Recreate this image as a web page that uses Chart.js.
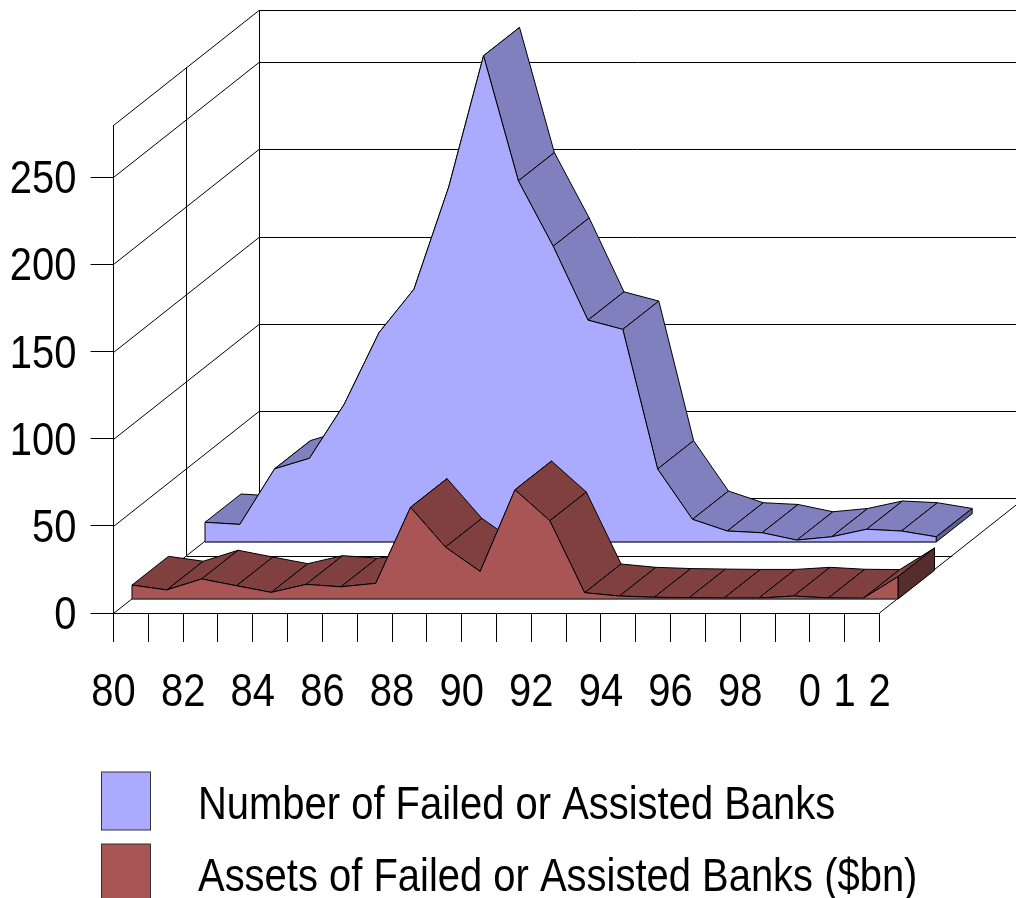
<!DOCTYPE html>
<html>
<head>
<meta charset="utf-8">
<title>Failed or Assisted Banks</title>
<script src="https://cdn.jsdelivr.net/npm/chart.js@4"></script>
<style>
  html, body { margin: 0; padding: 0; background: #fff; overflow: hidden; }
  #chartBox { width: 1016px; height: 898px; }
</style>
</head>
<body>
<div id="chartBox"><canvas id="banksChart" width="1016" height="898"></canvas></div>
<script>
const categories = ['80','81','82','83','84','85','86','87','88','89','90','91','92','93','94','95','96','97','98','99','0','1','2'];
const tickLabels = ['80','','82','','84','','86','','88','','90','','92','','94','','96','','98','','0','1','2'];
const yTicks = [0, 50, 100, 150, 200, 250];
const failedBanks = [11.3, 10.1, 42, 48, 79.1, 120.2, 145, 203.7, 279, 207.2, 169.7, 127.3, 122, 41.9, 13, 6.3, 5.3, 1.1, 3, 7.3, 6.3, 3, null];
const failedAssets = [8, 5.2, 11.5, 7.6, 3.8, 8.4, 7, 9, 52.6, 29.8, 15.8, 62.7, 44.9, 3.6, 1.7, 1, 0.7, 0.5, 0.5, 1.7, 0.6, 0.4, 12.8];

const FONT = '"Liberation Sans", Arial, sans-serif';
const FONT_SIZE = 47;
const TEXT_SQUEEZE = 0.85; // the original type is a narrow Arial

// how far back each ribbon sits, and the wall depth
const WALL_DX = 145.5, WALL_DY = -115;
const depths = [
  { dx: 91.5, dy: -71, bandX: 36, bandY: -28.3, top: '#8080BF', end: '#606090' },
  { dx: 18.5, dy: -14, bandX: 36.5, bandY: -28.7, top: '#804040', end: '#552D2D' }
];

function line(ctx, x1, y1, x2, y2) {
  ctx.beginPath();
  ctx.moveTo(x1, y1);
  ctx.lineTo(x2, y2);
  ctx.stroke();
}

function poly(ctx, pts, fill) {
  ctx.beginPath();
  pts.forEach(function(p, i) {
    if (i === 0) ctx.moveTo(p[0], p[1]);
    else ctx.lineTo(p[0], p[1]);
  });
  ctx.closePath();
  ctx.fillStyle = fill;
  ctx.fill();
  ctx.stroke();
}

// back walls and floor
const wallsPlugin = {
  id: 'walls',
  beforeDatasetsDraw(chart) {
    const ctx = chart.ctx, a = chart.chartArea, y = chart.scales.y;
    ctx.save();
    ctx.strokeStyle = '#000';
    ctx.lineWidth = 1;
    yTicks.concat([y.max]).forEach(function(v) {
      const py = Math.round(y.getPixelForValue(v)) + 0.5;
      const by = py + WALL_DY;
      line(ctx, a.left, py, a.left + WALL_DX, by);
      line(ctx, a.left + WALL_DX, by, 1016, by);
    });
    const floor = y.getPixelForValue(0);
    const backX = Math.round(a.left + WALL_DX) + 0.5;
    line(ctx, backX, y.getPixelForValue(y.max) + WALL_DY, backX, floor + WALL_DY);
    const midX = Math.round(a.left + WALL_DX / 2) + 0.5;
    line(ctx, midX, y.getPixelForValue(y.max) + WALL_DY / 2, midX, floor + WALL_DY / 2);
    const midY = Math.round(floor + WALL_DY / 2) + 0.5;
    line(ctx, midX, midY, a.right + WALL_DX / 2, midY);
    line(ctx, a.right, floor, a.right + WALL_DX, floor + WALL_DY);
    ctx.restore();
  }
};

// the 3d ribbons, built from the points the line controller placed
const ribbonsPlugin = {
  id: 'ribbons',
  afterDatasetsDraw(chart) {
    const ctx = chart.ctx, base = chart.scales.y.getPixelForValue(0);
    ctx.save();
    ctx.lineWidth = 1;
    ctx.lineJoin = 'round';
    chart.data.datasets.forEach(function(ds, n) {
      const d = depths[n];
      const pts = chart.getDatasetMeta(n).data.filter(function(p) { return !p.skip; })
        .map(function(p) { return [p.x + d.dx, p.y + d.dy]; });
      const back = function(p) { return [p[0] + d.bandX, p[1] + d.bandY]; };
      const baseY = base + d.dy;
      const first = pts[0], last = pts[pts.length - 1];
      ctx.strokeStyle = '#000';
      // top strips
      for (let i = 0; i < pts.length - 1; i++) {
        poly(ctx, [pts[i], pts[i + 1], back(pts[i + 1]), back(pts[i])], d.top);
      }
      // right end
      const lastBase = [last[0], baseY];
      poly(ctx, [last, back(last), back(lastBase), lastBase], d.end);
      // front face
      ctx.beginPath();
      ctx.moveTo(first[0], baseY);
      pts.forEach(function(p) { ctx.lineTo(p[0], p[1]); });
      ctx.lineTo(last[0], baseY);
      ctx.closePath();
      ctx.fillStyle = ds.backgroundColor;
      ctx.fill();
      ctx.stroke();
      ctx.strokeStyle = '#555';
      line(ctx, first[0], baseY, last[0], baseY);
    });
    ctx.restore();
  }
};

// legend sits at fixed rows under the axis
const legendPlugin = {
  id: 'sideLegend',
  afterDraw(chart) {
    const ctx = chart.ctx;
    const rows = [{ box: 772, text: 819 }, { box: 844, text: 891 }];
    ctx.save();
    ctx.font = FONT_SIZE + 'px ' + FONT;
    ctx.textBaseline = 'alphabetic';
    chart.data.datasets.forEach(function(ds, n) {
      ctx.fillStyle = ds.backgroundColor;
      ctx.strokeStyle = '#333';
      ctx.fillRect(101.5, rows[n].box, 49, 58);
      ctx.strokeRect(101.5, rows[n].box, 49, 58);
      ctx.fillStyle = '#000';
      ctx.fillText(ds.label, 198, rows[n].text);
    });
    ctx.restore();
  }
};

document.addEventListener('DOMContentLoaded', function() {
  const canvas = document.getElementById('banksChart');

  // squeeze every label sideways, no narrow font is installed
  const ctx2d = canvas.getContext('2d');
  const plainFillText = ctx2d.fillText.bind(ctx2d);
  ctx2d.fillText = function(text, x, y) {
    ctx2d.save();
    // y tick labels sit a little low in the original
    ctx2d.translate(x, ctx2d.textBaseline === 'middle' ? y + 3 : y);
    ctx2d.scale(TEXT_SQUEEZE, 1);
    plainFillText(text, 0, 0);
    ctx2d.restore();
  };

  new Chart(canvas, {
    type: 'line',
    data: {
      labels: categories,
      datasets: [
        { label: 'Number of Failed or Assisted Banks', data: failedBanks, backgroundColor: '#AAAAFF', showLine: false, pointRadius: 0 },
        { label: 'Assets of Failed or Assisted Banks ($bn)', data: failedAssets, backgroundColor: '#AA5555', showLine: false, pointRadius: 0 }
      ]
    },
    options: {
      responsive: false,
      animation: false,
      layout: { padding: { left: 0, right: 136.5, top: 125, bottom: 0 } },
      plugins: { legend: { display: false }, tooltip: { enabled: false } },
      scales: {
        x: {
          afterFit: function(scale) { scale.height = 285; },
          grid: { drawOnChartArea: false, color: '#000', tickLength: 29 },
          border: { color: '#000' },
          ticks: {
            color: '#000', font: { family: FONT, size: FONT_SIZE }, padding: 20,
            autoSkip: false, maxRotation: 0,
            callback: function(v, i) { return tickLabels[i]; }
          }
        },
        y: {
          min: 0,
          max: 280,
          afterFit: function(scale) { scale.width = 113.5; },
          afterBuildTicks: function(scale) { scale.ticks = yTicks.map(function(v) { return { value: v }; }); },
          grid: { drawOnChartArea: false, color: '#000', tickLength: 23 },
          border: { color: '#000' },
          ticks: { color: '#000', font: { family: FONT, size: FONT_SIZE }, padding: 14 }
        }
      }
    },
    plugins: [wallsPlugin, ribbonsPlugin, legendPlugin]
  });
});
</script>
</body>
</html>
